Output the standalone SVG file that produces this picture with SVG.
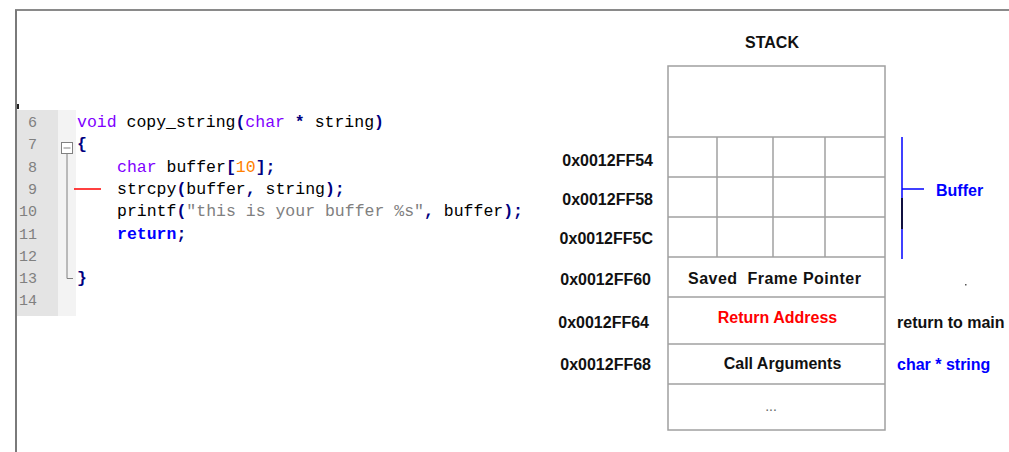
<svg xmlns="http://www.w3.org/2000/svg" width="1009" height="452" viewBox="0 0 1009 452">
<style>
.code{font-family:"Liberation Mono","Courier New",monospace;font-size:16.5px;fill:#000}
.ln{font-family:"Liberation Mono","Courier New",monospace;font-size:15px;fill:#808080;text-anchor:end}
.kw{fill:#8000ff}
.op{fill:#000080;font-weight:bold}
.num{fill:#ff8000}
.str{fill:#808080}
.ret{fill:#0000ff;font-weight:bold}
.lbl{font-family:"Liberation Sans",Arial,sans-serif;font-size:16px;font-weight:bold;fill:#111}
.cell{fill:#fff;stroke:#a0a0a0;stroke-width:1.5}
.grid{stroke:#a0a0a0;stroke-width:1.5}
</style>
<rect width="1009" height="452" fill="#fff"/>
<!-- frame -->
<g id="frame">
<line x1="15" y1="10" x2="1009" y2="10" stroke="#8a8a8a" stroke-width="2"/>
<line x1="16" y1="10" x2="16" y2="452" stroke="#7a7a7a" stroke-width="2"/>
</g>
<!-- code editor -->
<g id="code-editor">
<rect x="17" y="110" width="41" height="206" fill="#e4e4e4"/>
<rect x="58" y="110" width="18" height="206" fill="#f3f3f3"/>
<rect x="17" y="104" width="2" height="5" fill="#222"/>
<g id="line-numbers">
<text class="ln" x="37" y="127">6</text>
<text class="ln" x="37" y="149">7</text>
<text class="ln" x="37" y="171.5">8</text>
<text class="ln" x="37" y="194">9</text>
<text class="ln" x="37" y="216">10</text>
<text class="ln" x="37" y="238.5">11</text>
<text class="ln" x="37" y="261">12</text>
<text class="ln" x="37" y="283">13</text>
<text class="ln" x="37" y="305">14</text>
</g>
<g id="fold">
<rect x="61.5" y="142.5" width="11" height="11" fill="#fff" stroke="#808080" stroke-width="1"/>
<line x1="63.5" y1="148" x2="70.5" y2="148" stroke="#808080" stroke-width="1"/>
<polyline points="67,153.5 67,278.5 73,278.5" fill="none" stroke="#808080" stroke-width="1"/>
</g>
<line x1="74" y1="189" x2="101" y2="189" stroke="#ff0000" stroke-width="1.5"/>
<g id="code-lines" xml:space="preserve">
<text class="code" x="77" y="127"><tspan class="kw">void</tspan> copy_string<tspan class="op">(</tspan><tspan class="kw">char</tspan> <tspan class="op">*</tspan> string<tspan class="op">)</tspan></text>
<text class="code" x="77" y="149"><tspan class="op">{</tspan></text>
<text class="code" x="117" y="171.5"><tspan class="kw">char</tspan> buffer<tspan class="op">[</tspan><tspan class="num">10</tspan><tspan class="op">];</tspan></text>
<text class="code" x="117" y="194">strcpy<tspan class="op">(</tspan>buffer<tspan class="op">,</tspan> string<tspan class="op">);</tspan></text>
<text class="code" x="117" y="216">printf<tspan class="op">(</tspan><tspan class="str">"this is your buffer %s"</tspan><tspan class="op">,</tspan> buffer<tspan class="op">);</tspan></text>
<text class="code" x="117" y="238.5"><tspan class="ret">return</tspan><tspan class="op">;</tspan></text>
<text class="code" x="77" y="283"><tspan class="op">}</tspan></text>
</g>
</g>
<!-- stack -->
<g id="stack">
<text class="lbl" x="772" y="48" text-anchor="middle">STACK</text>
<rect class="cell" x="668" y="66" width="217" height="364"/>
<g id="rows">
<line class="grid" x1="668" y1="137" x2="885" y2="137"/>
<line class="grid" x1="668" y1="177" x2="885" y2="177"/>
<line class="grid" x1="668" y1="217" x2="885" y2="217"/>
<line class="grid" x1="668" y1="257" x2="885" y2="257"/>
<line class="grid" x1="668" y1="297" x2="885" y2="297"/>
<line class="grid" x1="668" y1="344" x2="885" y2="344"/>
<line class="grid" x1="668" y1="384" x2="885" y2="384"/>
<line class="grid" x1="717" y1="137" x2="717" y2="257"/>
<line class="grid" x1="773" y1="137" x2="773" y2="257"/>
<line class="grid" x1="825" y1="137" x2="825" y2="257"/>
</g>
<g id="cell-labels">
<text class="lbl" x="774.5" y="284" text-anchor="middle" textLength="173" lengthAdjust="spacing" xml:space="preserve">Saved  Frame Pointer</text>
<text class="lbl" x="777.5" y="323" text-anchor="middle" style="fill:#ff0000">Return Address</text>
<text class="lbl" x="782.5" y="369" text-anchor="middle">Call Arguments</text>
<text class="lbl" x="771" y="411" text-anchor="middle" style="fill:#666;font-weight:normal;font-size:14px">...</text>
</g>
<g id="addresses">
<text class="lbl" x="653" y="166" text-anchor="end">0x0012FF54</text>
<text class="lbl" x="653" y="205" text-anchor="end">0x0012FF58</text>
<text class="lbl" x="653" y="244" text-anchor="end">0x0012FF5C</text>
<text class="lbl" x="651" y="285" text-anchor="end">0x0012FF60</text>
<text class="lbl" x="649" y="328" text-anchor="end">0x0012FF64</text>
<text class="lbl" x="651" y="370" text-anchor="end">0x0012FF68</text>
</g>
</g>
<g id="annotations">
<g id="buffer-bracket">
<line x1="902" y1="137" x2="902" y2="259" stroke="#0000ff" stroke-width="1.5"/>
<line x1="902" y1="198" x2="902" y2="229" stroke="#000" stroke-width="1.5"/>
<line x1="902" y1="189" x2="924" y2="189" stroke="#0000ff" stroke-width="1.5"/>
<text class="lbl" x="936" y="196" style="fill:#0000ff">Buffer</text>
</g>
<rect x="965" y="284" width="1.5" height="1.5" fill="#555"/>
<text class="lbl" x="897" y="328">return to main</text>
<text class="lbl" x="897" y="370" style="fill:#0000ff">char * string</text>
</g>
</svg>
